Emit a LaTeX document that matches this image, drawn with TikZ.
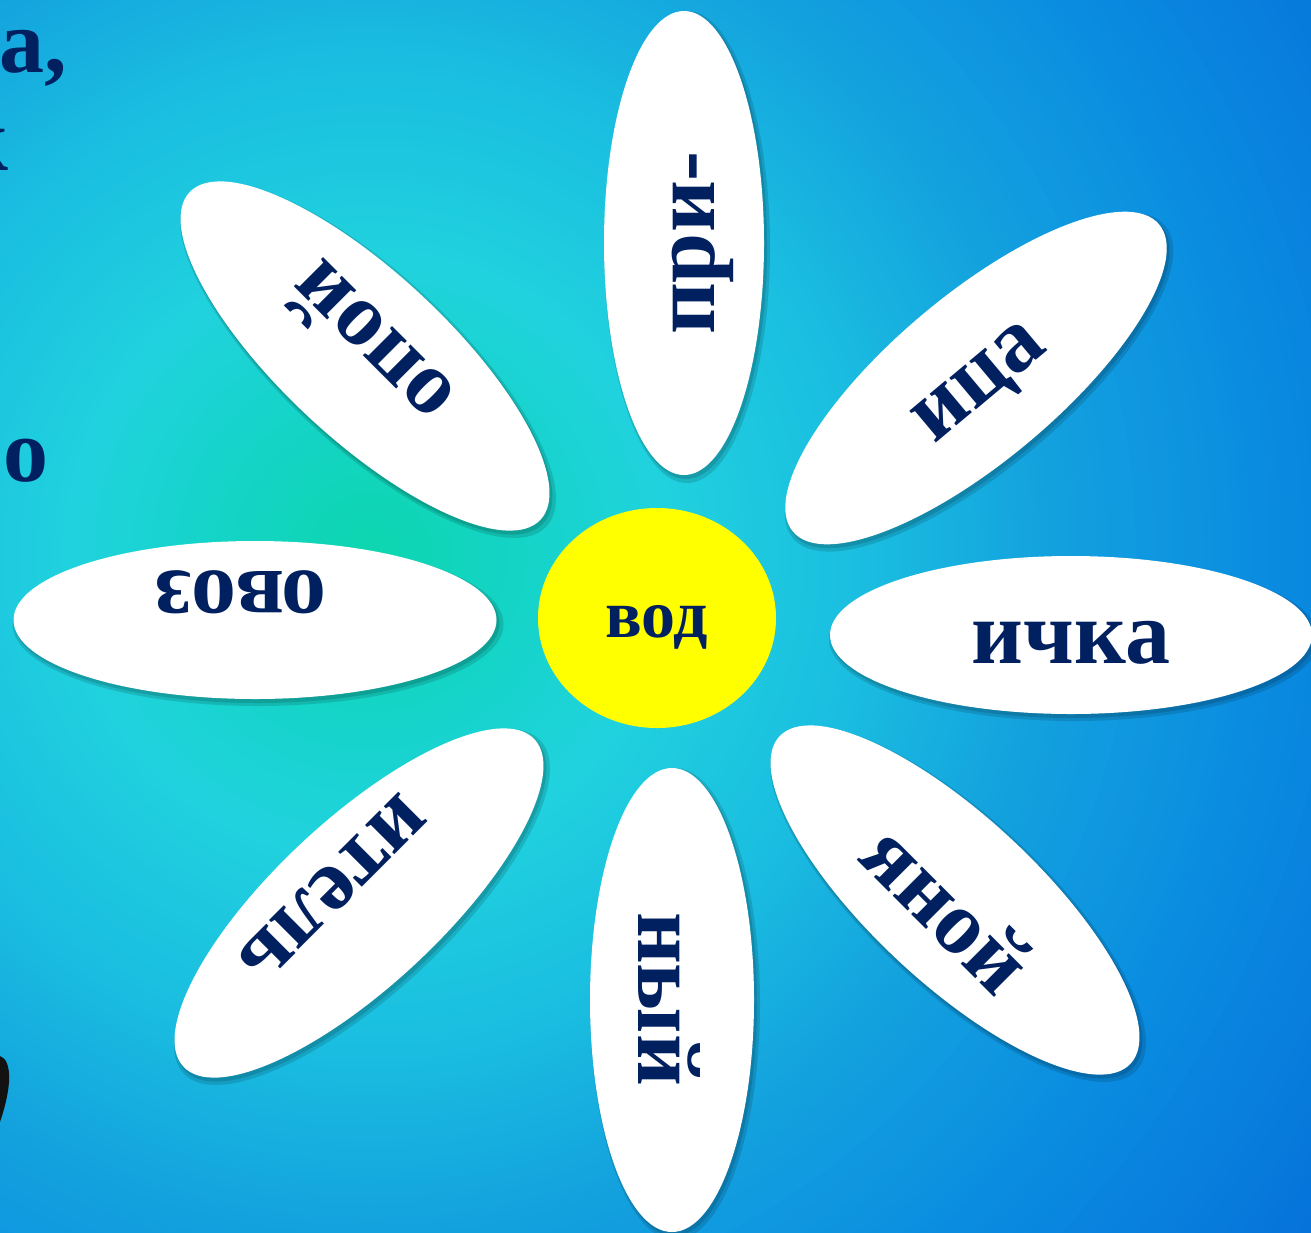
\documentclass[tikz,border=0pt]{standalone}
\usepackage{fontspec}
\setmainfont{Liberation Serif}
\usetikzlibrary{shapes.geometric}
\definecolor{ink}{HTML}{002060}
\definecolor{bgA}{HTML}{0CD6AE}
\definecolor{bgB}{HTML}{14D4C6}
\definecolor{bgC}{HTML}{20D2DE}
\definecolor{bgD}{HTML}{1ABDE0}
\definecolor{bgE}{HTML}{14A3DE}
\definecolor{bgF}{HTML}{0A8CE0}
\definecolor{bgG}{HTML}{0672DA}
\definecolor{sun}{HTML}{FFFF00}
\newcommand\mypetal[6]{%
  \node[pshadow, rotate=#4, minimum width=#5pt+8pt, minimum height=#6pt+6pt] at (#2+3,#3+4) {};
  \node[pshadow, rotate=#4, minimum width=#5pt+2pt, minimum height=#6pt+2pt] at (#2+2,#3+3) {};
  \node[petal, rotate=#4, minimum width=#5pt, minimum height=#6pt] (#1) at (#2,#3) {};
}
\begin{document}
\begin{tikzpicture}[x=1pt,y=-1pt,
  petal/.style={ellipse, fill=white, inner sep=0pt, outer sep=0pt},
  pshadow/.style={ellipse, fill=black, opacity=0.13, inner sep=0pt, outer sep=0pt},
  word/.style={text=ink, font=\fontsize{90}{90}\selectfont\bfseries, inner sep=0pt},
  core/.style={ellipse, fill=sun, inner sep=0pt, minimum width=238pt, minimum height=220pt},
]
\useasboundingbox (0,0) rectangle (1311,1232);
\begin{scope}
\clip (0,0) rectangle (1311,1232);
% radial background built from fine concentric rings
\coordinate (bgc) at (370,555);
\fill[bgG] (0,0) rectangle (1311,1232);
\foreach \ra/\ca/\rb/\cb in {1170/bgG/900/bgF, 900/bgF/670/bgE, 670/bgE/500/bgD, 500/bgD/300/bgC, 300/bgC/150/bgB, 150/bgB/0/bgA} {
  \foreach \i in {0,...,23} {
    \pgfmathsetmacro\rr{\ra-(\ra-\rb)*\i/24}
    \pgfmathsetmacro\pp{100*\i/24}
    \fill[\cb!\pp!\ca] (bgc) circle (\rr pt);
  }
}
% left fragments of cut-off text
\node[word, anchor=base west] (fa) at (-1,72) {а,};
\node[word, anchor=base east] (fk) at (9,170) {к};
\node[word, anchor=base west] (fo) at (3,481) {о};
% black fragment
\fill[black!93] (0,1056) .. controls (6,1058) and (10,1066) .. (9,1082)
  .. controls (8,1096) and (4,1110) .. (0,1122) -- cycle;
% petals
\mypetal{p1}{684}{243}{90}{464}{160}
\mypetal{p2}{976}{378}{40}{478}{166}
\mypetal{p3}{1071}{635}{0}{482}{158}
\mypetal{p4}{955}{900}{-43}{480}{166}
\mypetal{p5}{672}{1000}{90}{464}{164}
\mypetal{p6}{359}{903}{43}{480}{166}
\mypetal{p7}{255}{620}{0}{483}{158}
\mypetal{p8}{365}{356}{-43}{480}{166}
% centre
\node[core] (c) at (657,618) {};
\node[word, font=\fontsize{68}{68}\selectfont\bfseries] (cw) at (657,627) {вод};
% words
\node[word, rotate=90] (w1) at (703,243) {при-};
\node[word, rotate=40] (w2) at (983,387) {ица};
\node[word] (w3) at (1071,643) {ичка};
\node[word, rotate=-45] (w4) at (948,908) {яной};
\node[word, rotate=-90] (w5) at (669,999) {ный};
\node[word, rotate=-135] (w6) at (332,888) {итель};
\node[word, rotate=180] (w7) at (241,592) {овоз};
\node[word, rotate=135] (w8) at (369,346) {опой};
\end{scope}
\end{tikzpicture}
\end{document}
